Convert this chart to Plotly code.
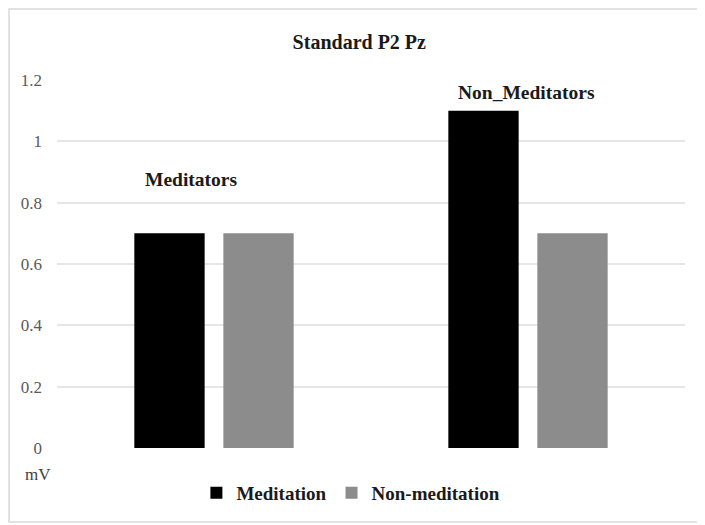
import plotly.graph_objects as go

groups = ["Meditators", "Non_Meditators"]
meditation = [0.7, 1.1]
non_meditation = [0.7, 0.7]
y_ticks = [0, 0.2, 0.4, 0.6, 0.8, 1, 1.2]
y_tick_text = ["0", "0.2", "0.4", "0.6", "0.8", "1", "1.2"]

serif = "Liberation Serif"

fig = go.Figure()
fig.add_trace(go.Bar(x=groups, y=meditation, name="Meditation",
                     marker={"color": "#000000", "line": {"width": 0}}))
fig.add_trace(go.Bar(x=groups, y=non_meditation, name="Non-meditation",
                     marker={"color": "#8c8c8c", "line": {"width": 0}}))

# group names sit above the bars instead of on the axis
label_y = [0.874, 1.158]
label_shift = [-23, -2]
for g, ly, sh in zip(groups, label_y, label_shift):
    fig.add_annotation(x=g, y=ly, xref="x", yref="y", text="<b>" + g + "</b>",
                       showarrow=False, xshift=sh,
                       font={"family": serif, "size": 19.5, "color": "#1a1a1a"})

fig.add_annotation(x=-0.030, y=-0.073, xref="paper", yref="paper", text="mV",
                   xanchor="center", yanchor="middle", showarrow=False,
                   font={"family": serif, "size": 17, "color": "#404040"})

# outer chart border
fig.add_shape(type="rect", xref="paper", yref="paper",
              x0=-0.0764, x1=1.024, y0=-0.201, y1=1.193,
              line={"color": "#d9d9d9", "width": 1.5}, fillcolor="rgba(0,0,0,0)", layer="below")

fig.update_layout(
    width=697, height=517,
    margin={"l": 49, "r": 20, "t": 72, "b": 77},
    paper_bgcolor="white", plot_bgcolor="white",
    font={"family": serif, "color": "#595959"},
    title={"text": "<b>Standard P2 Pz</b>", "x": 0.504, "xanchor": "center",
           "y": 0.934, "yanchor": "middle",
           "font": {"family": serif, "size": 20, "color": "#1a1a1a"}},
    barmode="group", bargap=0.433, bargroupgap=0.21,
    showlegend=True,
    legend={"orientation": "h", "x": 0.468, "xanchor": "center", "y": -0.122, "yanchor": "middle",
            "font": {"family": serif, "size": 19, "color": "#1a1a1a", "weight": "bold"},
            "itemwidth": 30, "tracegroupgap": 0},
    xaxis={"showticklabels": False, "showgrid": False, "zeroline": False, "showline": False},
    yaxis={"range": [0, 1.2], "tickvals": y_ticks, "ticktext": y_tick_text,
           "showgrid": True, "gridcolor": "#e6e6e6", "gridwidth": 2,
           "zeroline": False, "showline": False, "ticks": "",
           "ticklabelstandoff": 14,
           "tickfont": {"family": serif, "size": 17, "color": "#595959"}},
)

fig.write_html("out.html")
